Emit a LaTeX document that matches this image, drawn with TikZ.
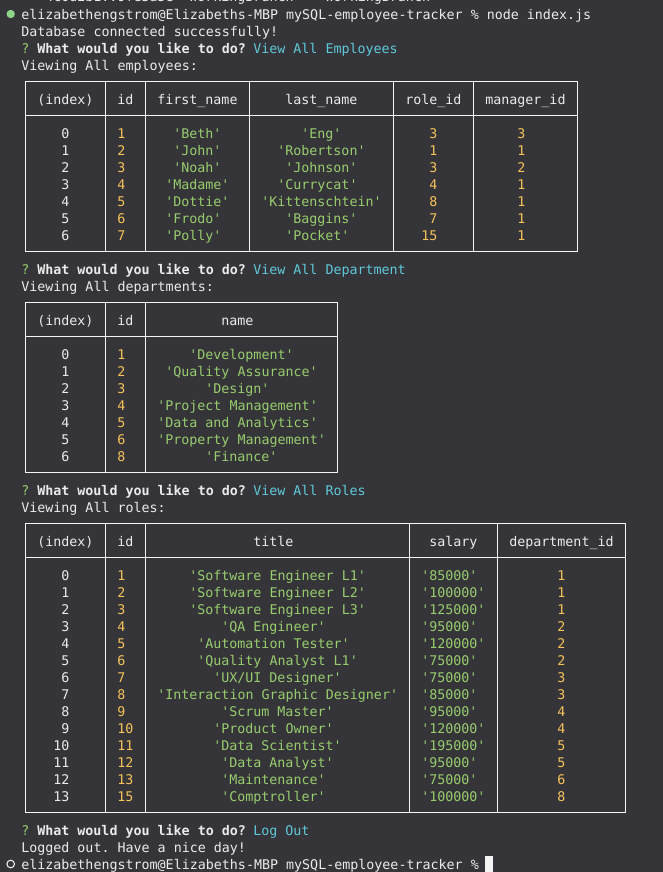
\documentclass[tikz,border=0pt]{standalone}
\usepackage{fontspec}
\setmonofont{DejaVu Sans Mono}

\definecolor{termbg}{HTML}{353438}
\definecolor{termfg}{HTML}{EBEBEB}
\definecolor{termline}{HTML}{F4F4F4}
\definecolor{termcyan}{HTML}{5FC9DA}
\definecolor{termgreen}{HTML}{98CD6E}
\definecolor{termyellow}{HTML}{F6C45B}
\definecolor{termdot}{HTML}{8ED488}

\tikzset{
  txt/.style={anchor=base west, inner sep=0pt, text=termfg,
    font=\ttfamily\fontsize{10pt}{12pt}\selectfont},
  bold/.style={txt, font=\ttfamily\bfseries\fontsize{10pt}{12pt}\selectfont},
  num/.style={txt, text=termyellow},
  str/.style={txt, text=termgreen},
  ans/.style={txt, text=termcyan},
  grid/.style={draw=termline, line width=0.9pt, line cap=rect},
}

\begin{document}
\begin{tikzpicture}[x=0.75pt,y=-0.75pt]
  \useasboundingbox (0,0) rectangle (663,872);
  \clip (0,0) rectangle (663,872);
  \fill[termbg] (0,0) rectangle (663,872);

  % shell marks
  \fill[termdot] (10.7,14) circle (3.15pt);
  \draw[termfg!75, line width=0.8pt] (10.7,864) circle (2.85pt);

  % one unit = one character cell, (c,k) = baseline of column c, row k
  \begin{scope}[shift={(21,19)}, x=6pt, y=-12.75pt]
  \node[txt] (hash) at (3,-1.04) {4c0d2b1..9fe3a5e};
  \node[txt] (push) at (21,-1.04) {WorkingBranch -> WorkingBranch};
  \node[txt] (cmd) at (0,0) {elizabethengstrom@Elizabeths-MBP mySQL-employee-tracker \% node index.js};
  \node[txt] (conn) at (0,1) {Database connected successfully!};

  % prompts
  \foreach \k/\what in {2/View All Employees, 15/View All Department, 28/View All Roles, 48/Log Out}{
    \node[str] (q\k) at (0,\k) {?};
    \node[bold] (ask\k) at (2,\k) {What would you like to do?};
    \node[ans] (pick\k) at (29,\k) {\what};
  }
  \node[txt] (view3) at (0,3) {Viewing All employees:};
  \node[txt] (view16) at (0,16) {Viewing All departments:};
  \node[txt] (view29) at (0,29) {Viewing All roles:};
  \node[txt] (bye) at (0,49) {Logged out. Have a nice day!};
  \node[txt] (last) at (0,50) {elizabethengstrom@Elizabeths-MBP mySQL-employee-tracker \%};
  \fill[termline] (58,49.22) rectangle (59,50.3);

  % employees table
  \foreach \c in {0,10,15,28,46,56,69}
    \draw[grid] (\c+0.58,3.69) -- (\c+0.58,13.69);
  \foreach \k in {4,6,14}
    \draw[grid] (0.58,\k-0.31) -- (69.58,\k-0.31);
  \node[txt] (eh1) at (2,5) {(index)};
  \node[txt] (eh2) at (12,5) {id};
  \node[txt] (eh3) at (17,5) {first\_name};
  \node[txt] (eh4) at (33,5) {last\_name};
  \node[txt] (eh5) at (48,5) {role\_id};
  \node[txt] (eh6) at (58,5) {manager\_id};
  \foreach \i/\id/\fc/\fn/\lc/\ln/\rc/\rl/\mg [count=\n from 7] in {
      0/1/19/Beth/35/Eng/51/3/3,
      1/2/19/John/32/Robertson/51/1/1,
      2/3/19/Noah/33/Johnson/51/3/2,
      3/4/18/Madame/32/Currycat/51/4/1,
      4/5/18/Dottie/30/Kittenschtein/51/8/1,
      5/6/18/Frodo/33/Baggins/51/7/1,
      6/7/18/Polly/33/Pocket/50/15/1}{
    \node[txt] (ei\n) at (5,\n) {\i};
    \node[num] (eid\n) at (12,\n) {\id};
    \node[str] (efn\n) at (\fc,\n) {'\fn'};
    \node[str] (eln\n) at (\lc,\n) {'\ln'};
    \node[num] (erl\n) at (\rc,\n) {\rl};
    \node[num] (emg\n) at (62,\n) {\mg};
  }

  % departments table
  \foreach \c in {0,10,15,39}
    \draw[grid] (\c+0.58,16.69) -- (\c+0.58,26.69);
  \foreach \k in {17,19,27}
    \draw[grid] (0.58,\k-0.31) -- (39.58,\k-0.31);
  \node[txt] (dh1) at (2,18) {(index)};
  \node[txt] (dh2) at (12,18) {id};
  \node[txt] (dh3) at (25,18) {name};
  \foreach \i/\id/\nc/\nm [count=\n from 20] in {
      0/1/21/Development,
      1/2/18/Quality Assurance,
      2/3/23/Design,
      3/4/17/Project Management,
      4/5/17/Data and Analytics,
      5/6/17/Property Management,
      6/8/23/Finance}{
    \node[txt] (di\n) at (5,\n) {\i};
    \node[num] (did\n) at (12,\n) {\id};
    \node[str] (dnm\n) at (\nc,\n) {'\nm'};
  }

  % roles table
  \foreach \c in {0,10,15,48,59,75}
    \draw[grid] (\c+0.58,29.69) -- (\c+0.58,46.69);
  \foreach \k in {30,32,47}
    \draw[grid] (0.58,\k-0.31) -- (75.58,\k-0.31);
  \node[txt] (rh1) at (2,31) {(index)};
  \node[txt] (rh2) at (12,31) {id};
  \node[txt] (rh3) at (29,31) {title};
  \node[txt] (rh4) at (51,31) {salary};
  \node[txt] (rh5) at (61,31) {department\_id};
  \foreach \i/\ic/\id/\tc/\ttl/\sal/\dep [count=\n from 33] in {
      0/5/1/21/Software Engineer L1/85000/1,
      1/5/2/21/Software Engineer L2/100000/1,
      2/5/3/21/Software Engineer L3/125000/1,
      3/5/4/25/QA Engineer/95000/2,
      4/5/5/22/Automation Tester/120000/2,
      5/5/6/22/Quality Analyst L1/75000/2,
      6/5/7/24/{UX/UI Designer}/75000/3,
      7/5/8/17/Interaction Graphic Designer/85000/3,
      8/5/9/25/Scrum Master/95000/4,
      9/5/10/24/Product Owner/120000/4,
      10/4/11/24/Data Scientist/195000/5,
      11/4/12/25/Data Analyst/95000/5,
      12/4/13/25/Maintenance/75000/6,
      13/4/15/25/Comptroller/100000/8}{
    \node[txt] (ri\n) at (\ic,\n) {\i};
    \node[num] (rid\n) at (12,\n) {\id};
    \node[str] (rtl\n) at (\tc,\n) {'\ttl'};
    \node[str] (rsl\n) at (50,\n) {'\sal'};
    \node[num] (rdp\n) at (67,\n) {\dep};
  }
  \end{scope}
\end{tikzpicture}
\end{document}
